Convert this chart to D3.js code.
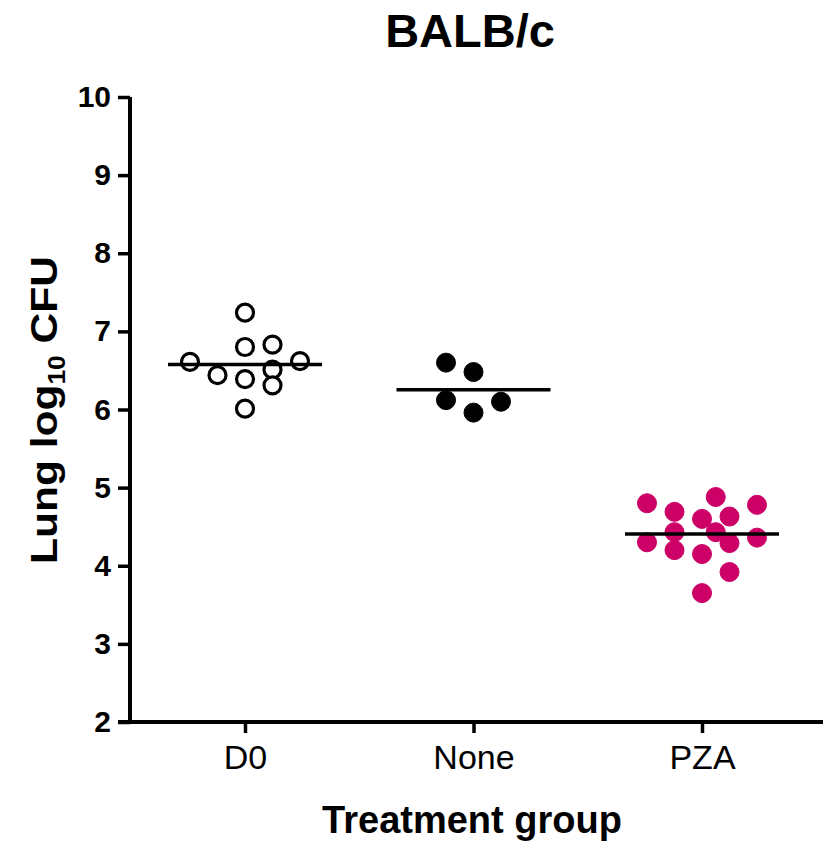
<!DOCTYPE html>
<html>
<head>
<meta charset="utf-8">
<script src="https://cdn.jsdelivr.net/npm/d3@7/dist/d3.min.js"></script>
<style>
  body { margin: 0; background: #fff; }
  svg { display: block; }
  text { font-family: "Liberation Sans", Arial, Helvetica, sans-serif; }
</style>
</head>
<body>
<svg id="chart" width="823" height="843"></svg>
<script>
// ---- data ----
const categories = ["D0", "None", "PZA"];
const yTicks = [2, 3, 4, 5, 6, 7, 8, 9, 10];
// D0 (open circles): values and column slot within the scatter
const d0Values = [7.24, 6.80, 6.83, 6.61, 6.62, 6.44, 6.39, 6.51, 6.31, 6.01];
const d0Slots  = [0, 0, 1, -2, 2, -1, 0, 1, 1, 0];
// None (filled black)
const noneValues = [6.60, 6.48, 6.12, 5.96, 6.10];
const noneSlots  = [-1, 0, -1, 0, 1];
// PZA (filled magenta)
const pzaValues = [4.80, 4.30, 4.69, 4.43, 4.20, 4.60, 4.15, 3.65, 4.88, 4.43, 4.63, 4.29, 3.92, 4.78, 4.36];
const pzaSlots  = [-2, -2, -1, -1, -1, 0, 0, 0, 0.5, 0.5, 1, 1, 1, 2, 2];

const groups = [
  { name: "D0", values: d0Values, slots: d0Slots, fill: "#ffffff", stroke: "#000000" },
  { name: "None", values: noneValues, slots: noneSlots, fill: "#000000", stroke: "#000000" },
  { name: "PZA", values: pzaValues, slots: pzaSlots, fill: "#cc0066", stroke: "#cc0066" }
];

const svg = d3.select("#chart");

const y = d3.scaleLinear().domain([2, 10]).range([722, 97]);
const x = d3.scalePoint().domain(categories).range([245, 702]);
const slot = d3.scaleLinear().domain([-1, 1]).range([-27.5, 27.5]);

// Title
svg.append("text")
  .attr("x", 470).attr("y", 47)
  .attr("text-anchor", "middle")
  .attr("font-size", 47).attr("font-weight", "bold")
  .text("BALB/c");

// Y axis
const yAxis = d3.axisLeft(y).tickValues(yTicks).tickSize(12).tickPadding(7).tickFormat(d3.format("d"));
const gy = svg.append("g").attr("transform", "translate(130,0)").call(yAxis);
gy.select(".domain").attr("d", `M0,${y(10)}V${y(2) + 2}`).attr("stroke-width", 4).attr("stroke", "#000");
gy.selectAll(".tick line").attr("stroke-width", 3.5).attr("stroke", "#000");
gy.selectAll(".tick text").attr("font-size", 30).attr("font-weight", "bold").attr("fill", "#000")
  .attr("font-family", '"Liberation Sans", Arial, sans-serif');

// X axis
const xAxis = d3.axisBottom(x).tickSize(11).tickPadding(12);
const gx = svg.append("g").attr("transform", `translate(0,${y(2)})`).call(xAxis);
gx.select(".domain").attr("d", `M118,0H823`).attr("stroke-width", 4).attr("stroke", "#000");
gx.selectAll(".tick line").attr("stroke-width", 3.5).attr("stroke", "#000");
gx.selectAll(".tick text").attr("font-size", 34).attr("fill", "#000")
  .attr("font-family", '"Liberation Sans", Arial, sans-serif');

// Axis titles
svg.append("text")
  .attr("x", 472).attr("y", 833)
  .attr("text-anchor", "middle")
  .attr("font-size", 38).attr("font-weight", "bold")
  .text("Treatment group");

const yt = svg.append("text")
  .attr("transform", "translate(57,410) rotate(-90)")
  .attr("text-anchor", "middle")
  .attr("font-size", 37).attr("font-weight", "bold")
  .attr("textLength", 308).attr("lengthAdjust", "spacingAndGlyphs");
yt.append("tspan").text("Lung log");
yt.append("tspan").attr("font-size", 23).attr("dy", 8).text("10");
yt.append("tspan").attr("dy", -8).text(" CFU");

// Points
groups.forEach(g => {
  const pts = g.values.map((v, i) => ({ v, s: g.slots[i] }));
  svg.append("g").selectAll("circle").data(pts).join("circle")
    .attr("cx", d => x(g.name) + slot(d.s))
    .attr("cy", d => y(d.v))
    .attr("r", g.name === "D0" ? 8.5 : 9.5)
    .attr("fill", g.fill)
    .attr("stroke", g.stroke)
    .attr("stroke-width", g.name === "D0" ? 3.2 : 1);
  const m = d3.mean(g.values);
  svg.append("line")
    .attr("x1", x(g.name) - 77).attr("x2", x(g.name) + 77)
    .attr("y1", y(m)).attr("y2", y(m))
    .attr("stroke", "#000").attr("stroke-width", 3.5);
});
</script>
</body>
</html>
